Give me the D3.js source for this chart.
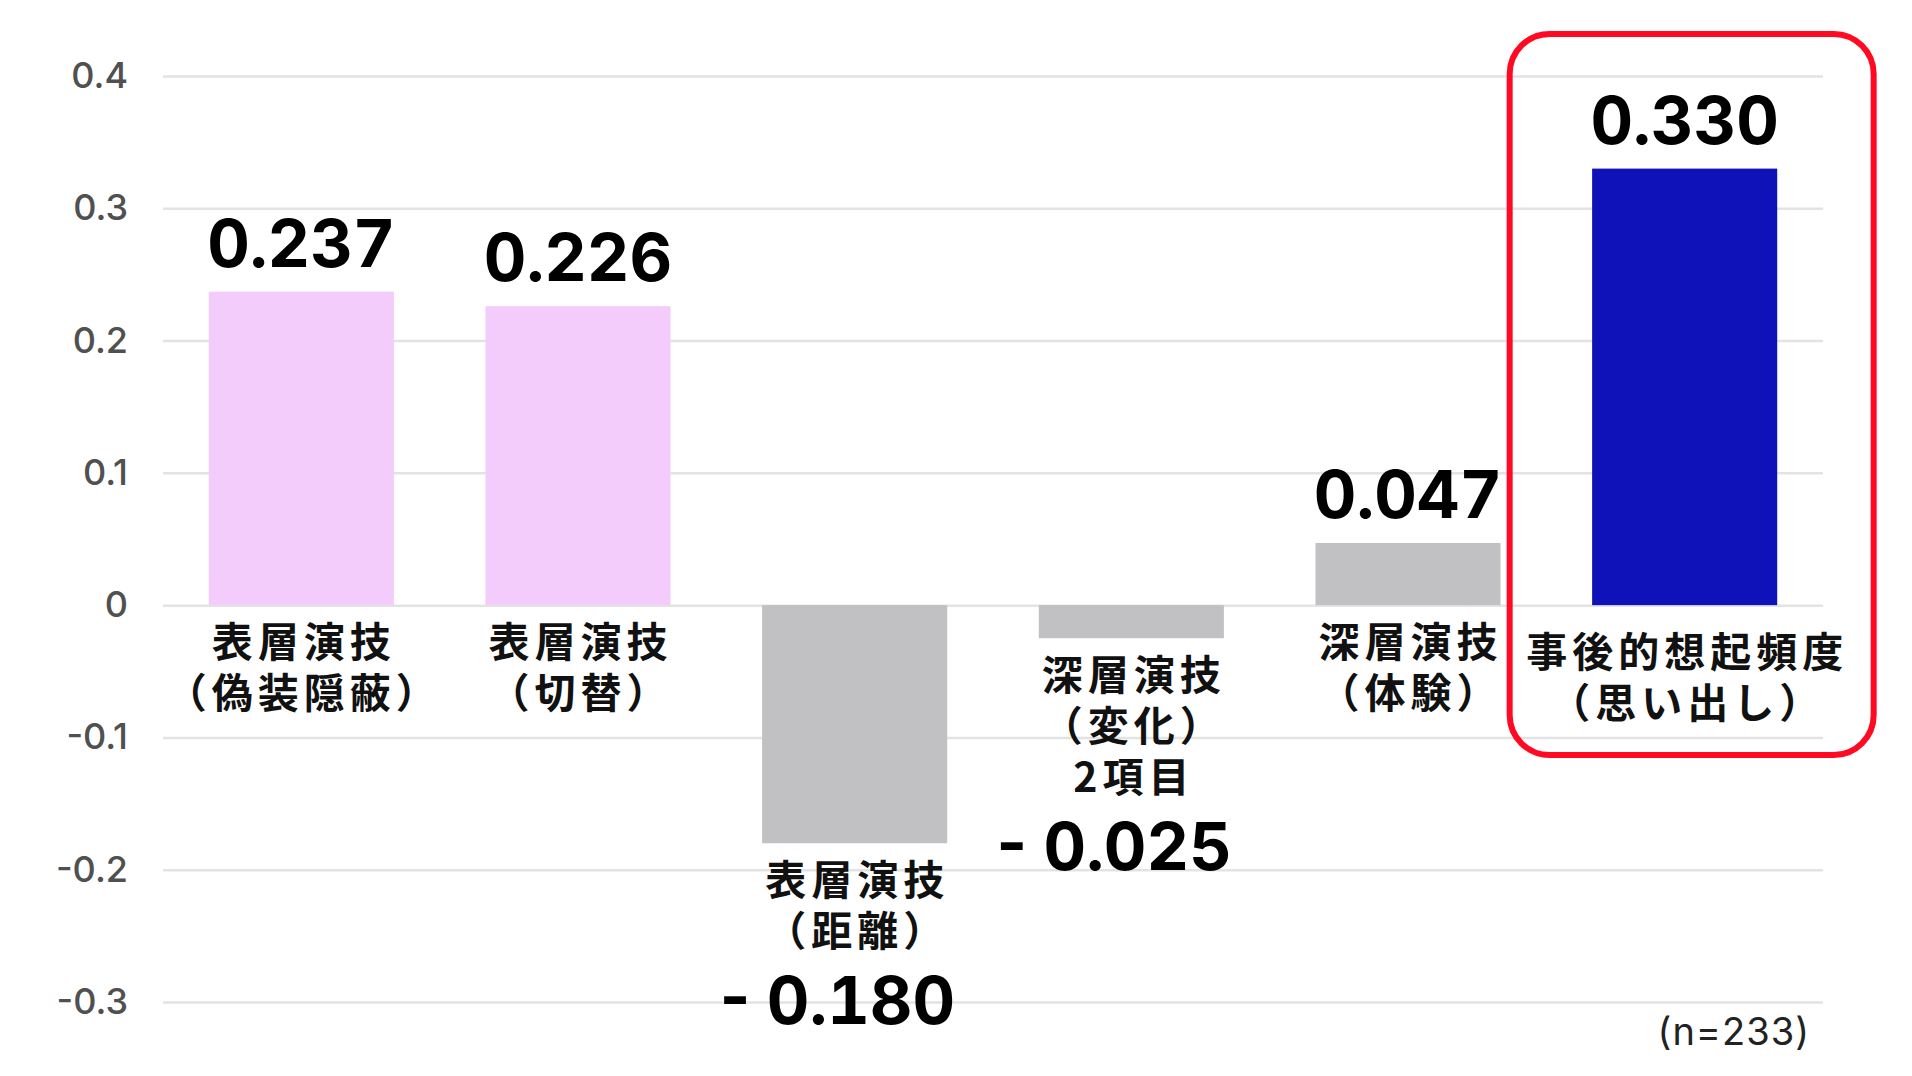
<!DOCTYPE html>
<html><head><meta charset="utf-8">
<script src="https://cdn.jsdelivr.net/npm/d3@7"></script>
<style>body{margin:0;background:#fff}svg{display:block}</style>
</head><body><svg id="chart" width="1912" height="1076"></svg>
<script>
const categories = [["表層演技","（偽装隠蔽）"],["表層演技","（切替）"],["表層演技","（距離）"],["深層演技","（変化）","2項目"],["深層演技","（体験）"],["事後的想起頻度","（思い出し）"]];
const values = [0.237,0.226,-0.180,-0.025,0.047,0.330];
const valueLabels = ["0.237","0.226","-\u20090.180","-\u20090.025","0.047","0.330"];
const groups = ["surface","surface","other","other","other","recall"];
const groupColors = {surface:"#F4CCFB", other:"#C1C1C3", recall:"#0F12B8"};
const tickValues = [0.4,0.3,0.2,0.1,0,-0.1,-0.2,-0.3];
const tickLabels = ["0.4","0.3","0.2","0.1","0","-0.1","-0.2","-0.3"];
const noteText = "(n=233)";
const highlightIndex = 5;

const svg = d3.select("#chart");
svg.append("rect").attr("width",1912).attr("height",1076).attr("fill","#fff");
const left = 163, right = 1823;
const x = d3.scaleBand().domain(d3.range(values.length)).range([left,right]).paddingInner(0.331).paddingOuter(0.1655);
const y = d3.scaleLinear().domain([-0.3,0.4]).range([1002,76]);
const bw = x.bandwidth();

const axis = d3.axisLeft(y).tickValues(tickValues).tickFormat((d,i)=>tickLabels[i]).tickSize(-(right-left)).tickPadding(35);
const ag = svg.append("g").attr("transform",`translate(${left},0)`).call(axis);
ag.select(".domain").remove();
ag.selectAll(".tick line").attr("stroke","#E3E3E3").attr("stroke-width",2.5);
ag.selectAll(".tick text").attr("fill","#505050").attr("font-family","Inter, 'Liberation Sans', sans-serif").attr("font-size",36).attr("font-weight",500);

// bars
svg.append("g").selectAll("rect").data(values).join("rect")
  .attr("x",(d,i)=>x(i)).attr("width",bw)
  .attr("y",d=>Math.min(y(d),y(0))).attr("height",d=>Math.abs(y(d)-y(0)))
  .attr("fill",(d,i)=>groupColors[groups[i]]);

// highlight box
const hc = x(highlightIndex)+bw/2;
svg.append("rect").attr("x",hc-175).attr("y",34).attr("width",364).attr("height",721).attr("rx",40).attr("ry",40)
  .attr("fill","none").attr("stroke","#FF0A22").attr("stroke-width",6);

// category labels
const catG = svg.append("g").attr("font-family","'Noto Sans CJK JP', sans-serif").attr("font-weight",700).attr("font-size",41).attr("fill","#111").attr("letter-spacing","5px");
const valG = svg.append("g").attr("font-family","Inter, 'Liberation Sans', sans-serif").attr("font-weight",700).attr("font-size",66).attr("fill","#000").style("font-feature-settings","'tnum' 1");
values.forEach((v,i)=>{
  const cx = x(i)+bw/2;
  const lines = categories[i];
  let base;
  if (v >= 0) base = y(0) + 38 + (i===highlightIndex ? 10 : 0);
  else base = y(v) + 38;
  const t = catG.append("text").attr("text-anchor","middle");
  lines.forEach((s,j)=>{
    t.append("tspan").attr("x",cx+2.5).attr("y",base+51*j+14).text(s);
  });
  if (v >= 0) {
    valG.append("text").attr("x",cx).attr("y",y(v)-25).attr("text-anchor","middle").text(valueLabels[i]);
  } else {
    const vc = base + 51*(lines.length-1) + 68;
    valG.append("text").attr("x",x(i)+bw+8).attr("y",vc+24).attr("text-anchor","end").text(valueLabels[i]);
  }
});

svg.append("text").attr("x",1810).attr("y",1045).attr("text-anchor","end")
  .attr("font-family","Inter, 'Liberation Sans', sans-serif").attr("font-size",38).attr("letter-spacing","1px").attr("fill","#222").text(noteText);
</script></body></html>
